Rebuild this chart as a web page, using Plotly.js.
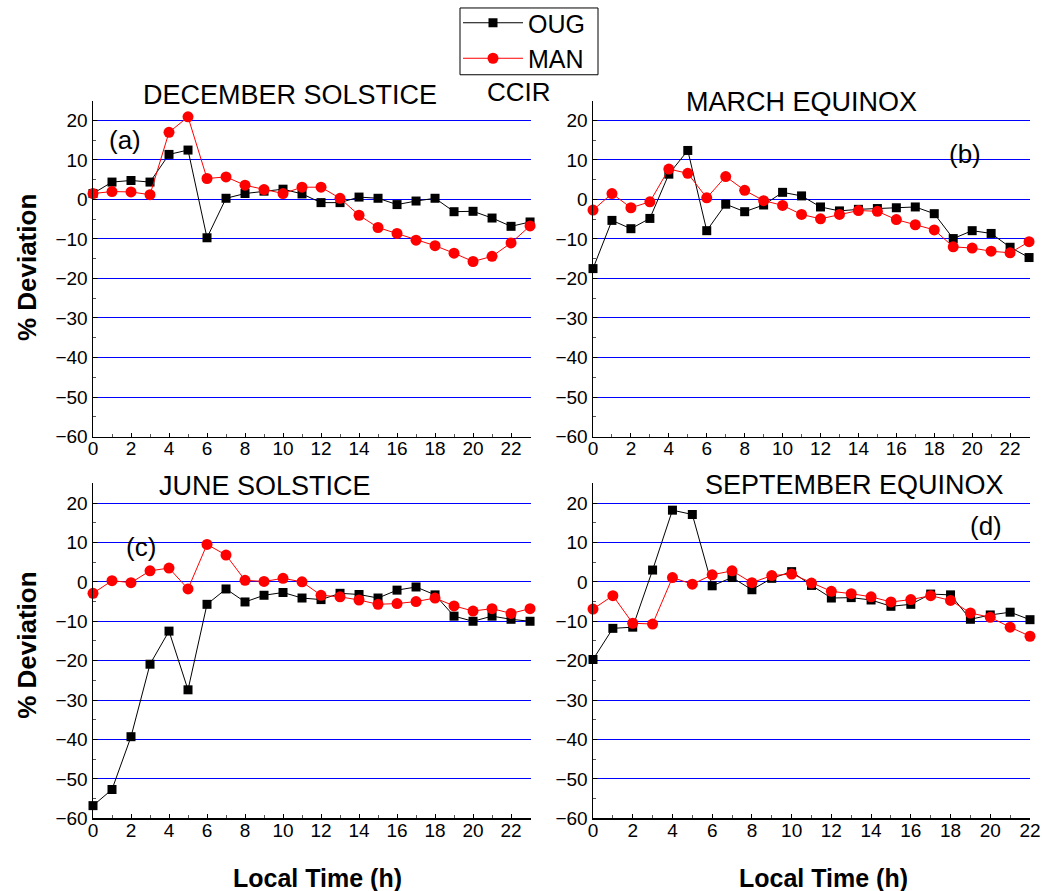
<!DOCTYPE html>
<html>
<head>
<meta charset="utf-8">
<script src="https://cdn.plot.ly/plotly-3.0.1.min.js"></script>
<style>html,body{margin:0;padding:0;background:#fff;}#chart{width:1042px;height:891px;}</style>
</head>
<body>
<div id="chart"></div>
<script>
// Hours (local time)
var hours24 = [0,1,2,3,4,5,6,7,8,9,10,11,12,13,14,15,16,17,18,19,20,21,22,23];
var hours23 = [0,1,2,3,4,5,6,7,8,9,10,11,12,13,14,15,16,17,18,19,20,21,22];

// (a) December solstice
var decOUG = [1.5,4.4,4.8,4.4,11.4,12.5,-9.7,0.3,1.5,2.1,2.6,1.4,-0.8,-0.8,0.6,0.3,-1.3,-0.4,0.3,-3.1,-3.0,-4.7,-6.8,-5.7];
var decMAN = [1.5,2.0,1.9,1.2,17.0,20.9,5.3,5.7,3.6,2.5,1.5,3.1,3.1,0.3,-4.0,-7.1,-8.6,-10.3,-11.7,-13.6,-15.7,-14.4,-11.0,-6.7];
// (b) March equinox
var marOUG = [-17.5,-5.3,-7.4,-4.8,6.4,12.4,-7.9,-1.2,-3.1,-1.4,1.8,0.9,-1.9,-2.9,-2.5,-2.3,-2.1,-1.9,-3.6,-9.9,-7.9,-8.6,-12.1,-14.7];
var marMAN = [-2.7,1.5,-2.1,-0.6,7.7,6.6,0.4,5.8,2.3,-0.3,-1.5,-3.8,-4.9,-3.8,-2.8,-3.0,-5.1,-6.4,-7.7,-12.0,-12.3,-13.1,-13.5,-10.7];
// (c) June solstice
var junOUG = [-56.8,-52.7,-39.3,-20.9,-12.5,-27.4,-5.7,-1.8,-5.1,-3.4,-2.7,-4.1,-4.5,-2.9,-3.2,-4.1,-2.1,-1.3,-3.3,-8.7,-10.0,-8.7,-9.5,-10.0];
var junMAN = [-2.9,0.3,-0.2,2.8,3.5,-1.8,9.5,6.8,0.4,0.1,0.9,0.0,-3.4,-3.8,-4.6,-5.7,-5.5,-5.0,-4.1,-6.1,-7.4,-6.8,-8.0,-6.8];
// (d) September equinox
var sepOUG = [-19.7,-11.8,-11.5,3.0,18.2,17.1,-1.0,1.1,-2.0,0.9,2.6,-0.9,-4.1,-4.0,-4.6,-6.2,-5.7,-3.1,-3.3,-9.5,-8.4,-7.7,-9.6];
var sepMAN = [-6.9,-3.5,-10.5,-10.7,1.1,-0.6,1.8,2.8,-0.2,1.6,2.0,-0.3,-2.4,-3.0,-3.8,-5.1,-4.5,-3.5,-4.7,-7.9,-9.0,-11.5,-13.8];

var seriesNames = ['OUG','MAN'];
var panelTitles = ['DECEMBER SOLSTICE','MARCH EQUINOX','JUNE SOLSTICE','SEPTEMBER EQUINOX'];
var panelLetters = ['(a)','(b)','(c)','(d)'];
var yTitle = '% Deviation';
var xTitle = 'Local Time (h)';
var extraLabel = 'CCIR';

var FONT = 'Liberation Sans, Arial, Helvetica, sans-serif';
var W = 1042, H = 891;
function px(x){return x/W;}
function py(y){return 1 - y/H;}

var panels = [
  {x: hours24, oug: decOUG, man: decMAN},
  {x: hours24, oug: marOUG, man: marMAN},
  {x: hours24, oug: junOUG, man: junMAN},
  {x: hours23, oug: sepOUG, man: sepMAN}
];

var traces = [];
panels.forEach(function(p, i){
  var s = i === 0 ? '' : String(i+1);
  traces.push({
    x: p.x, y: p.oug, name: seriesNames[0], type: 'scatter', mode: 'lines+markers',
    xaxis: 'x'+s, yaxis: 'y'+s, showlegend: i === 0, cliponaxis: false,
    line: {color: '#000000', width: 1},
    marker: {symbol: 'square', size: 9, color: '#000000'}
  });
  traces.push({
    x: p.x, y: p.man, name: seriesNames[1], type: 'scatter', mode: 'lines+markers',
    xaxis: 'x'+s, yaxis: 'y'+s, showlegend: i === 0, cliponaxis: false,
    line: {color: '#ff0000', width: 1},
    marker: {symbol: 'circle', size: 11, color: '#ff0000'}
  });
});

// panel pixel boxes: [left, right, top, bottom]
var boxes = [
  [93, 531, 98, 435],
  [593, 1030, 98, 435],
  [93, 531, 482, 818],
  [593, 1030, 482, 818]
];
var xRanges = [[0,23.05],[0,23.05],[0,23.05],[0,22]];

var layout = {
  width: W, height: H,
  margin: {l:0, r:0, t:0, b:0},
  paper_bgcolor: '#ffffff', plot_bgcolor: 'rgba(0,0,0,0)',
  font: {family: FONT, color: '#000000', size: 19},
  showlegend: true,
  legend: {
    x: px(458), y: py(-3), xanchor: 'left', yanchor: 'top',
    borderwidth: 0, bgcolor: 'rgba(0,0,0,0)',
    font: {family: FONT, size: 25, color: '#000000'},
    itemwidth: 60, tracegroupgap: 0
  },
  shapes: [{type: 'rect', xref: 'paper', yref: 'paper',
    x0: px(460), x1: px(598), y0: py(72), y1: py(5),
    line: {color: '#000000', width: 1}, fillcolor: 'rgba(0,0,0,0)', layer: 'above'}],
  annotations: [],
  hovermode: false
};

boxes.forEach(function(b, i){
  var s = i === 0 ? '' : String(i+1);
  layout['xaxis'+s] = {
    domain: [px(b[0]), px(b[1])], anchor: 'y'+s,
    range: xRanges[i], tickmode: 'linear', tick0: 0, dtick: 2,
    showgrid: false, zeroline: false,
    showline: true, linecolor: '#000000', linewidth: 1.5,
    ticks: 'inside', ticklen: 4, tickcolor: '#000000',
    minor: {tick0: 0, dtick: 1, ticks: 'inside', ticklen: 3, tickcolor: '#555555', showgrid: false},
    tickfont: {family: FONT, size: 19, color: '#000000'},
    ticklabelstandoff: -6
  };
  layout['yaxis'+s] = {
    domain: [py(b[3]), py(b[2])], anchor: 'x'+s,
    range: [-60, 25], tickmode: 'linear', tick0: -60, dtick: 10,
    showgrid: true, gridcolor: '#0000ff', gridwidth: 1, zeroline: false,
    showline: true, linecolor: '#000000', linewidth: 1.5,
    ticks: 'inside', ticklen: 4, tickcolor: '#000000',
    minor: {tick0: -60, dtick: 5, ticks: 'inside', ticklen: 3, tickcolor: '#555555', showgrid: false},
    tickfont: {family: FONT, size: 19, color: '#000000'},
    ticklabelstandoff: 0
  };
});

function ann(text, x, y, size, opts){
  var a = {text: text, xref: 'paper', yref: 'paper', x: px(x), y: py(y),
    xanchor: 'center', yanchor: 'middle', showarrow: false,
    font: {family: FONT, size: size, color: '#000000'}};
  if (opts) for (var k in opts) a[k] = opts[k];
  layout.annotations.push(a);
}

var titlePos = [[290, 92], [801, 99], [265, 485], [854, 484]];
panelTitles.forEach(function(t, i){ ann(t, titlePos[i][0], titlePos[i][1], 27); });
var letterPos = [[125, 137], [965, 152], [141, 546], [986, 525]];
panelLetters.forEach(function(t, i){ ann(t, letterPos[i][0], letterPos[i][1], 26); });
ann(extraLabel, 519, 89, 26);
ann('<b>' + yTitle + '</b>', 27, 266, 26, {textangle: -90});
ann('<b>' + yTitle + '</b>', 27, 645, 26, {textangle: -90});
ann('<b>' + xTitle + '</b>', 317, 878, 25);
ann('<b>' + xTitle + '</b>', 823, 878, 25);

Plotly.newPlot('chart', traces, layout, {displayModeBar: false, staticPlot: true});
</script>
</body>
</html>
